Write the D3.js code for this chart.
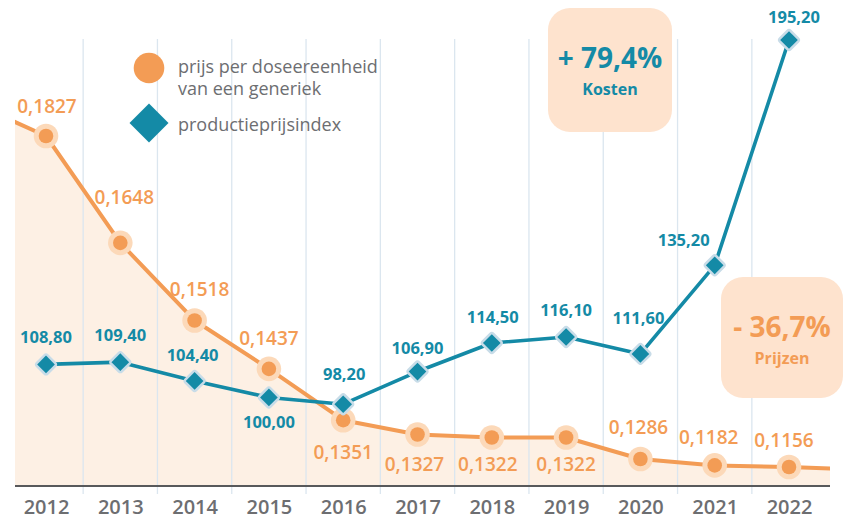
<!DOCTYPE html>
<html>
<head>
<meta charset="utf-8">
<script src="https://cdn.jsdelivr.net/npm/d3@7"></script>
<style>
  body { margin: 0; background: #fff; }
  svg { display: block; font-family: "Open Sans", sans-serif; }
</style>
</head>
<body>
<svg id="chart"></svg>
<script>
// data
const years = [2012, 2013, 2014, 2015, 2016, 2017, 2018, 2019, 2020, 2021, 2022];
const pricePerDose = [0.1827, 0.1648, 0.1518, 0.1437, 0.1351, 0.1327, 0.1322, 0.1322, 0.1286, 0.1182, 0.1156];
const productionPriceIndex = [108.8, 109.4, 104.4, 100.0, 98.2, 106.9, 114.5, 116.1, 111.6, 135.2, 195.2];
// the orange line runs on past the frame on both sides
const priceEdgeYears = [2011, 2023];
const priceEdgeValues = [0.1883, 0.1115];

const legendLabels = [["prijs per doseereenheid", "van een generiek"], ["productieprijsindex"]];
const calloutValues = ["+ 79,4%", "- 36,7%"];
const calloutLabels = ["Kosten", "Prijzen"];

// label nudges (dx, dy) relative to the marker
const priceLabelOffset = [[1, -23], [4, -39], [5, -24], [0, -24], [0, 39], [-3, 36], [-4, 33], [0, 33], [-2, -25], [-6, -21], [-5, -20]];
const ppiLabelOffset = [[0, -21], [0, -21], [-2, -20], [0, 31], [1, -24], [0, -18], [1, -20], [0, -21], [-2, -30], [-31, -19], [5, -17]];

class PriceChart {
    constructor(_config) {
        this.config = {
            parentElement: _config.parentElement,
            containerWidth: _config.containerWidth || 850,
            containerHeight: _config.containerHeight || 521,
            plotLeft: 15,
            plotRight: 830,
            axisY: 486,
            gridTop: 39
        };
        this.initVis();
    }

    initVis() {
        let vis = this;
        const c = vis.config;

        vis.orange = '#f39c55';
        vis.orangeHalo = '#fcd9b9';
        vis.teal = '#148aa6';
        vis.tealHalo = '#c8dce8';
        vis.grey = '#6d6e71';

        vis.nl = d3.formatLocale({decimal: ',', thousands: '.', grouping: [3], currency: ['€', '']});

        vis.svg = d3.select(c.parentElement)
            .attr('width', c.containerWidth)
            .attr('height', c.containerHeight);

        // scales
        vis.x = d3.scaleLinear().domain([2012, 2022]).range([46, 789]);
        // price axis is not drawn evenly in the original, so piecewise
        vis.yPrice = d3.scaleLinear().domain([0.1156, 0.1286, 0.1827]).range([467, 459, 136]);
        vis.yIndex = d3.scaleLinear().domain([90, 200]).range([435, 22]);

        vis.svg.append('clipPath').attr('id', 'plot-clip')
            .append('rect')
            .attr('x', c.plotLeft).attr('y', 0)
            .attr('width', c.plotRight - c.plotLeft).attr('height', c.axisY);

        vis.renderVis();
    }

    renderVis() {
        let vis = this;
        const c = vis.config;

        const priceData = years.map((y, i) => ({year: y, value: pricePerDose[i]}));
        const priceLineData = [{year: priceEdgeYears[0], value: priceEdgeValues[0]}]
            .concat(priceData, [{year: priceEdgeYears[1], value: priceEdgeValues[1]}]);
        const ppiData = years.map((y, i) => ({year: y, value: productionPriceIndex[i]}));

        // area under price line
        const area = d3.area()
            .x(d => vis.x(d.year))
            .y0(c.axisY)
            .y1(d => vis.yPrice(d.value));
        vis.svg.append('path')
            .datum(priceLineData)
            .attr('clip-path', 'url(#plot-clip)')
            .attr('fill', '#fdf0e4')
            .attr('d', area);

        // vertical gridlines between years
        vis.svg.append('g').selectAll('line')
            .data(years.slice(0, -1))
            .join('line')
            .attr('x1', d => vis.x(d + 0.5)).attr('x2', d => vis.x(d + 0.5))
            .attr('y1', c.gridTop).attr('y2', c.axisY + 8)
            .attr('stroke', '#dbe6ef')
            .attr('stroke-width', 1.3);

        // x axis
        const xAxis = d3.axisBottom(vis.x)
            .tickValues(years)
            .tickFormat(d3.format('d'))
            .tickSize(0)
            .tickPadding(14);
        const gx = vis.svg.append('g')
            .attr('transform', `translate(0,${c.axisY})`)
            .call(xAxis);
        gx.select('.domain').remove();
        gx.selectAll('text')
            .attr('fill', vis.grey)
            .style('font-family', '"Open Sans", sans-serif')
            .style('font-size', '20px')
            .style('font-weight', 600);
        gx.append('line')
            .attr('x1', c.plotLeft).attr('x2', c.plotRight)
            .attr('stroke', '#58595b').attr('stroke-width', 2);

        // callout boxes
        const boxes = [
            {x: 548, y: 8, w: 124, h: 124, color: vis.teal},
            {x: 721, y: 277, w: 122, h: 121, color: vis.orange}
        ];
        const box = vis.svg.append('g').selectAll('g')
            .data(boxes)
            .join('g');
        box.append('rect')
            .attr('x', d => d.x).attr('y', d => d.y)
            .attr('width', d => d.w).attr('height', d => d.h)
            .attr('rx', 22)
            .attr('fill', '#fee3ce');
        box.append('text')
            .attr('x', d => d.x + d.w / 2)
            .attr('y', d => d.y + 60)
            .attr('text-anchor', 'middle')
            .attr('fill', d => d.color)
            .style('font-size', '28px')
            .style('font-weight', 700)
            .text((d, i) => calloutValues[i]);
        box.append('text')
            .attr('x', d => d.x + d.w / 2)
            .attr('y', d => d.y + 87)
            .attr('text-anchor', 'middle')
            .attr('fill', d => d.color)
            .style('font-size', '16px')
            .style('font-weight', 700)
            .text((d, i) => calloutLabels[i]);

        // price line + markers
        vis.svg.append('path')
            .datum(priceLineData)
            .attr('clip-path', 'url(#plot-clip)')
            .attr('fill', 'none')
            .attr('stroke', vis.orange)
            .attr('stroke-width', 4)
            .attr('stroke-linejoin', 'round')
            .attr('d', d3.line().x(d => vis.x(d.year)).y(d => vis.yPrice(d.value)));

        const pm = vis.svg.append('g').selectAll('g')
            .data(priceData)
            .join('g')
            .attr('transform', d => `translate(${vis.x(d.year)},${vis.yPrice(d.value)})`);
        pm.append('circle').attr('r', 12.3).attr('fill', vis.orangeHalo);
        pm.append('circle').attr('r', 7.3).attr('fill', vis.orange);

        // production price index line + markers
        vis.svg.append('path')
            .datum(ppiData)
            .attr('fill', 'none')
            .attr('stroke', vis.teal)
            .attr('stroke-width', 3.6)
            .attr('stroke-linejoin', 'round')
            .attr('d', d3.line().x(d => vis.x(d.year)).y(d => vis.yIndex(d.value)));

        const im = vis.svg.append('g').selectAll('g')
            .data(ppiData)
            .join('g')
            .attr('transform', d => `translate(${vis.x(d.year)},${vis.yIndex(d.value)}) rotate(45)`);
        im.append('rect')
            .attr('x', -8.8).attr('y', -8.8).attr('width', 17.6).attr('height', 17.6)
            .attr('rx', 3.5)
            .attr('fill', vis.tealHalo);
        im.append('path')
            .attr('d', d3.symbol(d3.symbolSquare, 156))
            .attr('fill', vis.teal);

        // value labels
        const fmtPrice = vis.nl.format('.4f');
        const fmtIndex = vis.nl.format('.2f');

        vis.svg.append('g').selectAll('text')
            .data(priceData)
            .join('text')
            .attr('x', (d, i) => vis.x(d.year) + priceLabelOffset[i][0])
            .attr('y', (d, i) => vis.yPrice(d.value) + priceLabelOffset[i][1])
            .attr('text-anchor', 'middle')
            .attr('fill', vis.orange)
            .style('font-size', '19px')
            .style('font-weight', 600)
            .text(d => fmtPrice(d.value));

        vis.svg.append('g').selectAll('text')
            .data(ppiData)
            .join('text')
            .attr('x', (d, i) => vis.x(d.year) + ppiLabelOffset[i][0])
            .attr('y', (d, i) => vis.yIndex(d.value) + ppiLabelOffset[i][1])
            .attr('text-anchor', 'middle')
            .attr('fill', vis.teal)
            .style('font-size', '16.5px')
            .style('font-weight', 700)
            .text(d => fmtIndex(d.value));

        // legend
        const legend = vis.svg.append('g');
        legend.append('circle')
            .attr('cx', 149).attr('cy', 68).attr('r', 15.3)
            .attr('fill', vis.orange);
        legend.append('path')
            .attr('transform', 'translate(149,123) rotate(45)')
            .attr('d', d3.symbol(d3.symbolSquare, 760))
            .attr('fill', vis.teal);
        const lt = legend.selectAll('text')
            .data(legendLabels)
            .join('text')
            .attr('x', 178)
            .attr('y', (d, i) => i === 0 ? 73 : 130.5)
            .attr('fill', vis.grey)
            .style('font-size', '18px');
        lt.selectAll('tspan')
            .data(d => d)
            .join('tspan')
            .attr('x', 178)
            .attr('dy', (d, i) => i === 0 ? 0 : 22)
            .text(d => d);
    }
}

const chart = new PriceChart({parentElement: '#chart'});
</script>
</body>
</html>
